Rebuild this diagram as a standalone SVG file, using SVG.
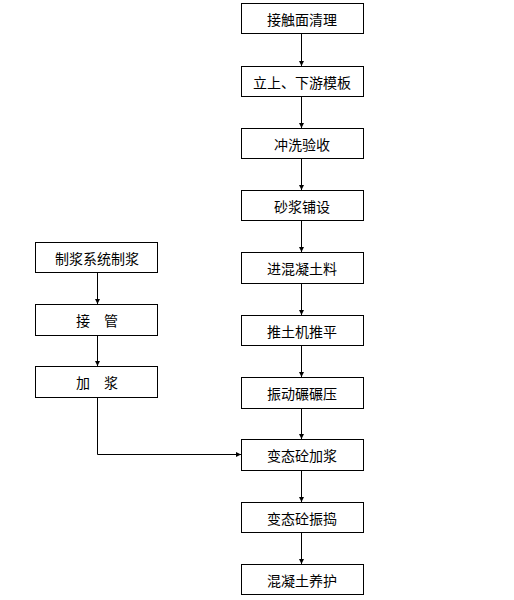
<svg xmlns="http://www.w3.org/2000/svg" width="514" height="600" viewBox="0 0 514 600">
<style>
.box{fill:#fff;stroke:#000;stroke-width:1}
.t{font-family:"Noto Sans CJK SC","Noto Sans CJK JP",sans-serif;font-size:14px;fill:#000;text-anchor:middle;dominant-baseline:central}
.c{fill:none;stroke:#000;stroke-width:1}
</style>
<defs>
<marker id="a" markerWidth="6" markerHeight="5" refX="5" refY="2.5" orient="auto" markerUnits="userSpaceOnUse">
<path d="M0,0 L5,2.5 L0,5 Z" fill="#000"/>
</marker>
</defs>
<rect width="514" height="600" fill="#fff"/>
<g id="n1"><rect class="box" x="241.5" y="3.5" width="122" height="30"/><text class="t" x="302" y="18.5">接触面清理</text></g>
<g id="n2"><rect class="box" x="241.5" y="66.5" width="122" height="30"/><text class="t" x="302" y="81.5">立上、下游模板</text></g>
<g id="n3"><rect class="box" x="241.5" y="128.5" width="122" height="30"/><text class="t" x="302" y="143.5">冲洗验收</text></g>
<g id="n4"><rect class="box" x="241.5" y="190.5" width="122" height="30"/><text class="t" x="302" y="205.5">砂浆铺设</text></g>
<g id="n5"><rect class="box" x="241.5" y="252.5" width="122" height="31"/><text class="t" x="302" y="268">进混凝土料</text></g>
<g id="n6"><rect class="box" x="241.5" y="315.5" width="122" height="30"/><text class="t" x="302" y="330.5">推土机推平</text></g>
<g id="n7"><rect class="box" x="241.5" y="377.5" width="122" height="31"/><text class="t" x="302" y="393">振动碾碾压</text></g>
<g id="n8"><rect class="box" x="241.5" y="439.5" width="122" height="31"/><text class="t" x="302" y="455">变态砼加浆</text></g>
<g id="n9"><rect class="box" x="241.5" y="502.5" width="122" height="30"/><text class="t" x="302" y="517.5">变态砼振捣</text></g>
<g id="n10"><rect class="box" x="241.5" y="564.5" width="122" height="30"/><text class="t" x="302" y="579.5">混凝土养护</text></g>
<g id="m1"><rect class="box" x="35.5" y="242.5" width="122" height="30"/><text class="t" x="97" y="257.5">制浆系统制浆</text></g>
<g id="m2"><rect class="box" x="35.5" y="304.5" width="122" height="31"/><text class="t" x="97" y="320" xml:space="preserve">接　管</text></g>
<g id="m3"><rect class="box" x="35.5" y="366.5" width="122" height="31"/><text class="t" x="97" y="382" xml:space="preserve">加　浆</text></g>
<g id="connectors">
<path class="c" d="M301.5,33.5 V66" marker-end="url(#a)"/>
<path class="c" d="M301.5,96.5 V128" marker-end="url(#a)"/>
<path class="c" d="M301.5,158.5 V190" marker-end="url(#a)"/>
<path class="c" d="M301.5,220.5 V252" marker-end="url(#a)"/>
<path class="c" d="M301.5,283.5 V315" marker-end="url(#a)"/>
<path class="c" d="M301.5,345.5 V377" marker-end="url(#a)"/>
<path class="c" d="M301.5,408.5 V439" marker-end="url(#a)"/>
<path class="c" d="M301.5,470.5 V502" marker-end="url(#a)"/>
<path class="c" d="M301.5,532.5 V564" marker-end="url(#a)"/>
<path class="c" d="M97.5,272.5 V304" marker-end="url(#a)"/>
<path class="c" d="M97.5,335.5 V366" marker-end="url(#a)"/>
<path class="c" d="M97.5,397.5 V454.5 H241" marker-end="url(#a)"/>
</g>
</svg>
